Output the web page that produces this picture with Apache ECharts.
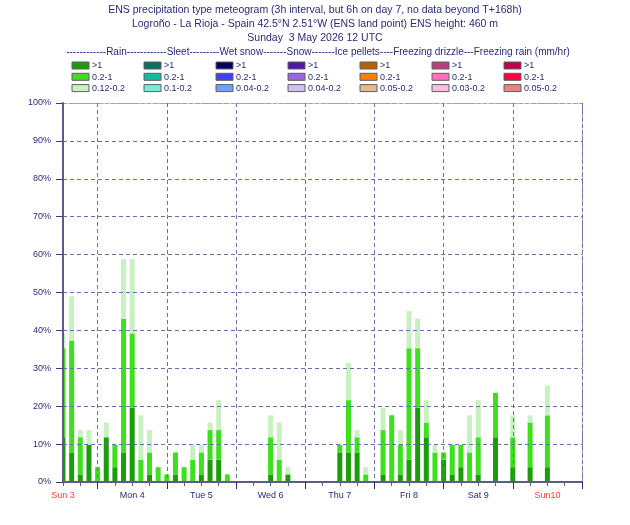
<!DOCTYPE html>
<html>
<head>
<meta charset="utf-8">
<script src="https://cdn.jsdelivr.net/npm/echarts@6/dist/echarts.min.js"></script>
<style>
  html, body { margin: 0; padding: 0; background: #fff; }
  #chart { width: 630px; height: 525px; }
</style>
</head>
<body>
<div id="chart"></div>
<script>
// forecast steps, hours after Sun 3 12 UTC (3h steps, axis runs to T+180h)
var hours = [];
for (var h = 0; h <= 180; h += 3) hours.push(String(h));

var dayLabels = ['Sun 3', 'Mon 4', 'Tue 5', 'Wed 6', 'Thu 7', 'Fri 8', 'Sat 9', 'Sun10'];
var redDays = ['Sun 3', 'Sun10'];

// rain probability (%) of exceeding each threshold, one value per step
var rainOver1 = [11.8, 7.8, 2.0, 9.8, 0, 11.8, 3.9, 7.8, 19.6, 0,
  2.0, 0, 0, 2.0, 0, 0, 2.0, 5.9, 5.9, 0,
  0, 0, 0, 0, 2.0, 0, 2.0, 0, 0, 0,
  0, 0, 7.8, 7.8, 7.8, 0, 0, 2.0, 0, 2.0,
  5.9, 19.6, 11.8, 0, 5.9, 2.0, 3.9, 0, 2.0, null,
  11.8, null, 3.9, null, 3.9, null, 3.9, null, null, null,
  null];
var rainOver02 = [35.3, 37.3, 11.8, 9.8, 3.9, 11.8, 9.8, 43.1, 39.2, 5.9,
  7.8, 3.9, 2.0, 7.8, 3.9, 5.9, 7.8, 13.7, 13.7, 2.0,
  0, 0, 0, 0, 11.8, 5.9, 2.0, 0, 0, 0,
  0, 0, 9.8, 21.6, 11.8, 2.0, 0, 13.7, 17.6, 9.8,
  35.3, 35.3, 15.7, 7.8, 7.8, 9.8, 9.8, 7.8, 11.8, null,
  23.5, null, 11.8, null, 15.7, null, 17.6, null, null, null,
  null];
var rainOver012 = [39.2, 49.0, 13.7, 13.7, 3.9, 15.7, 9.8, 58.8, 58.8, 17.6,
  13.7, 3.9, 2.0, 7.8, 3.9, 9.8, 9.8, 15.7, 21.6, 2.0,
  0, 0, 0, 0, 17.6, 15.7, 3.9, 0, 0, 0,
  0, 0, 9.8, 31.4, 13.7, 3.9, 0, 19.6, 17.6, 13.7,
  45.1, 43.1, 21.6, 9.8, 7.8, 9.8, 9.8, 17.6, 21.6, null,
  23.5, null, 17.6, null, 17.6, null, 25.5, null, null, null,
  null];

var titleLines = [
  'ENS precipitation type meteogram (3h interval, but 6h on day 7, no data beyond T+168h)',
  'Logroño - La Rioja - Spain 42.5°N 2.51°W (ENS land point) ENS height: 460 m',
  'Sunday  3 May 2026 12 UTC'
];
var legendHeader = '------------Rain------------Sleet---------Wet snow-------Snow-------Ice pellets----Freezing drizzle---Freezing rain (mm/hr)';
var legendLabels = [
  ['>1', '0.2-1', '0.12-0.2'],
  ['>1', '0.2-1', '0.1-0.2'],
  ['>1', '0.2-1', '0.04-0.2'],
  ['>1', '0.2-1', '0.04-0.2'],
  ['>1', '0.2-1', '0.05-0.2'],
  ['>1', '0.2-1', '0.03-0.2'],
  ['>1', '0.2-1', '0.05-0.2']
];
var legendColors = [
  ['#1c9c0c', '#3ce01c', '#c8f0c0'],
  ['#0a6e60', '#1ab8a0', '#7ce8da'],
  ['#000060', '#4040f4', '#70a0fa'],
  ['#5018a8', '#9868e8', '#d0c0f0'],
  ['#b86008', '#ff8000', '#e8b888'],
  ['#b84080', '#ff70c0', '#ffbce0'],
  ['#c00048', '#ff0040', '#f08080']
];

function diff(a, b) {
  return a.map(function (v, i) { return v == null ? null : +(v - (b ? b[i] : 0)).toFixed(1); });
}

var navy = '#2a2a78';
var gridColor = '#6e6ea8';
var font = 'Liberation Sans';

var legendItems = [];
legendItems.push({
  type: 'text', x: 318, y: 52,
  style: { text: legendHeader, font: '10px "' + font + '"', fill: navy, align: 'center', verticalAlign: 'middle' }
});
legendColors.forEach(function (col, i) {
  col.forEach(function (c, j) {
    var x = 72 + 72 * i, y = 62 + 11.3 * j;
    legendItems.push({
      type: 'rect', shape: { x: x, y: y, width: 17, height: 7 },
      style: { fill: c, stroke: '#606060', lineWidth: 1 }
    });
    legendItems.push({
      type: 'text', x: x + 20, y: y + 4,
      style: { text: legendLabels[i][j], font: '9px "' + font + '"', fill: navy, verticalAlign: 'middle' }
    });
  });
});
// bars are not clipped on a boundaryGap:false axis, hide the half of the first bar left of the y axis
legendItems.push({
  type: 'rect', z: 5, shape: { x: 50, y: 100, width: 12.5, height: 383 },
  style: { fill: '#fff' }
});

var splitColors = [];
for (var k = 0; k < 10; k++) splitColors.push(gridColor);
splitColors.push('#aaa2a2');

var chart = echarts.init(document.getElementById('chart'));

chart.setOption({
  animation: false,
  title: {
    text: titleLines.join('\n'),
    left: 'center', top: 3, padding: 0,
    textStyle: { fontFamily: font, fontSize: 10.5, fontWeight: 'normal', color: navy, lineHeight: 14 }
  },
  graphic: legendItems,
  grid: { left: 63, right: 48, top: 103, bottom: 43 },
  xAxis: [{
    type: 'category', data: hours, boundaryGap: false, z: 10,
    axisLine: { lineStyle: { color: '#5c5c8c', width: 2 } },
    axisTick: {
      length: 4, lineStyle: { color: '#5c5c8c' },
      interval: function (i) { return +hours[i] % 6 === 0; }
    },
    axisLabel: {
      margin: 9, fontFamily: font, fontSize: 9,
      interval: function (i) { return +hours[i] % 24 === 0 && +hours[i] < 180; },
      formatter: function (v) { return dayLabels[+v / 24]; },
      color: function (v) { return redDays.indexOf(dayLabels[+v / 24]) >= 0 ? '#ff3838' : navy; }
    },
    splitLine: {
      show: true,
      interval: function (i) { return +hours[i] % 24 === 12; },
      lineStyle: { color: gridColor, type: [4, 3] }
    }
  }, {
    type: 'category', data: hours, boundaryGap: false, position: 'bottom', z: 10,
    axisLine: { show: false },
    axisTick: {
      length: 7, lineStyle: { color: '#2a2a70' },
      interval: function (i) { return +hours[i] % 24 === 12; }
    },
    axisLabel: { show: false }
  }, {
    type: 'category', data: hours, boundaryGap: false, position: 'top',
    axisLine: { lineStyle: { color: '#aaa2a2', type: [4, 2] } },
    axisTick: { show: false }, axisLabel: { show: false }
  }],
  yAxis: [{
    type: 'value', min: 0, max: 100, interval: 10, z: 10,
    axisLine: { show: true, lineStyle: { color: '#5c5c8c', width: 2 } },
    axisTick: { show: true, length: 7, lineStyle: { color: '#3a3a80' } },
    axisLabel: { margin: 12, fontFamily: font, fontSize: 9, color: navy, formatter: '{value}%' },
    splitLine: { lineStyle: { color: splitColors, type: [4, 3] } }
  }, {
    type: 'value', min: 0, max: 100, position: 'right',
    axisLine: { show: true, lineStyle: { color: '#8a8496', type: [4, 2] } },
    axisTick: { show: false }, axisLabel: { show: false }, splitLine: { show: false }
  }],
  series: [{
    type: 'bar', name: 'Rain >1', stack: 'rain', barWidth: 5,
    itemStyle: { color: legendColors[0][0] },
    data: diff(rainOver1)
  }, {
    type: 'bar', name: 'Rain 0.2-1', stack: 'rain', barWidth: 5,
    itemStyle: { color: legendColors[0][1] },
    data: diff(rainOver02, rainOver1)
  }, {
    type: 'bar', name: 'Rain 0.12-0.2', stack: 'rain', barWidth: 5,
    itemStyle: { color: legendColors[0][2] },
    data: diff(rainOver012, rainOver02)
  }]
});
</script>
</body>
</html>
